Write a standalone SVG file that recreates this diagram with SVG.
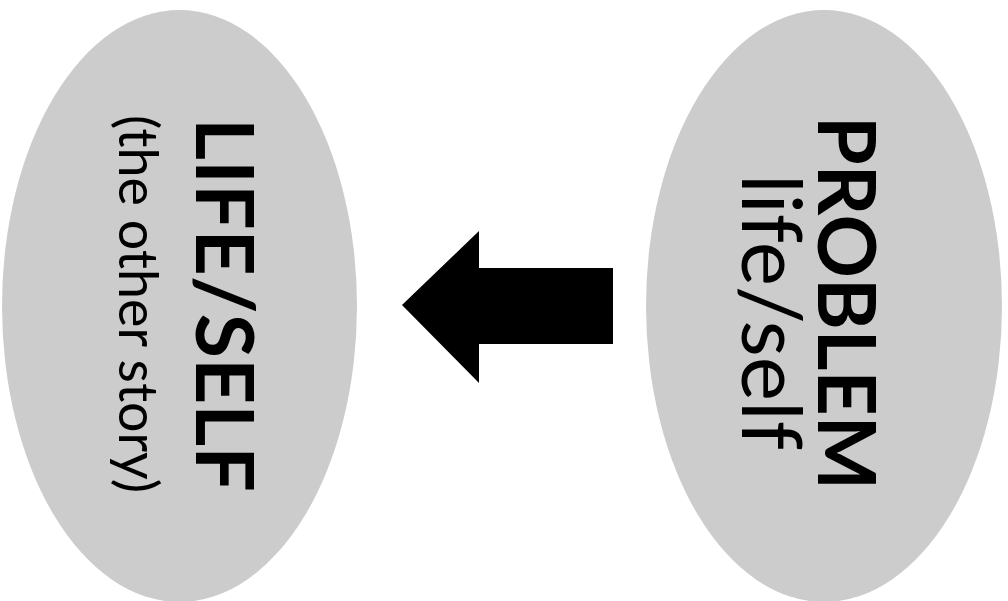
<svg xmlns="http://www.w3.org/2000/svg" width="1008" height="601" viewBox="0 0 1008 601">
<style>
.shape{fill:#cccccc;stroke:none}
.bold{font-family:Lato,"Open Sans","Liberation Sans",sans-serif;font-weight:700;fill:#000}
.reg{font-family:Lato,"Open Sans","Liberation Sans",sans-serif;font-weight:400;fill:#000}
</style>
<rect width="1008" height="601" fill="#ffffff"/>
<g id="node-life-self">
<ellipse class="shape" cx="179.5" cy="306" rx="177.5" ry="296"/>
<text class="bold" font-size="80" text-anchor="middle" transform="translate(196,305) rotate(90)" textLength="374" lengthAdjust="spacingAndGlyphs">LIFE/SELF</text>
<text class="reg" font-size="54" text-anchor="middle" transform="translate(119,304) rotate(90)" textLength="378" lengthAdjust="spacingAndGlyphs">(the other story)</text>
</g>
<g id="node-problem">
<ellipse class="shape" cx="824" cy="306" rx="178" ry="296"/>
<text class="bold" font-size="80" text-anchor="middle" transform="translate(818,303) rotate(90)" textLength="374" lengthAdjust="spacingAndGlyphs">PROBLEM</text>
<text class="reg" font-size="84" text-anchor="middle" transform="translate(742,312) rotate(90)" textLength="276" lengthAdjust="spacingAndGlyphs">life/self</text>
</g>
<g id="connectors">
<polygon points="402,305 479,231 479,268 613,268 613,344 479,344 479,383" fill="#000"/>
</g>
</svg>
